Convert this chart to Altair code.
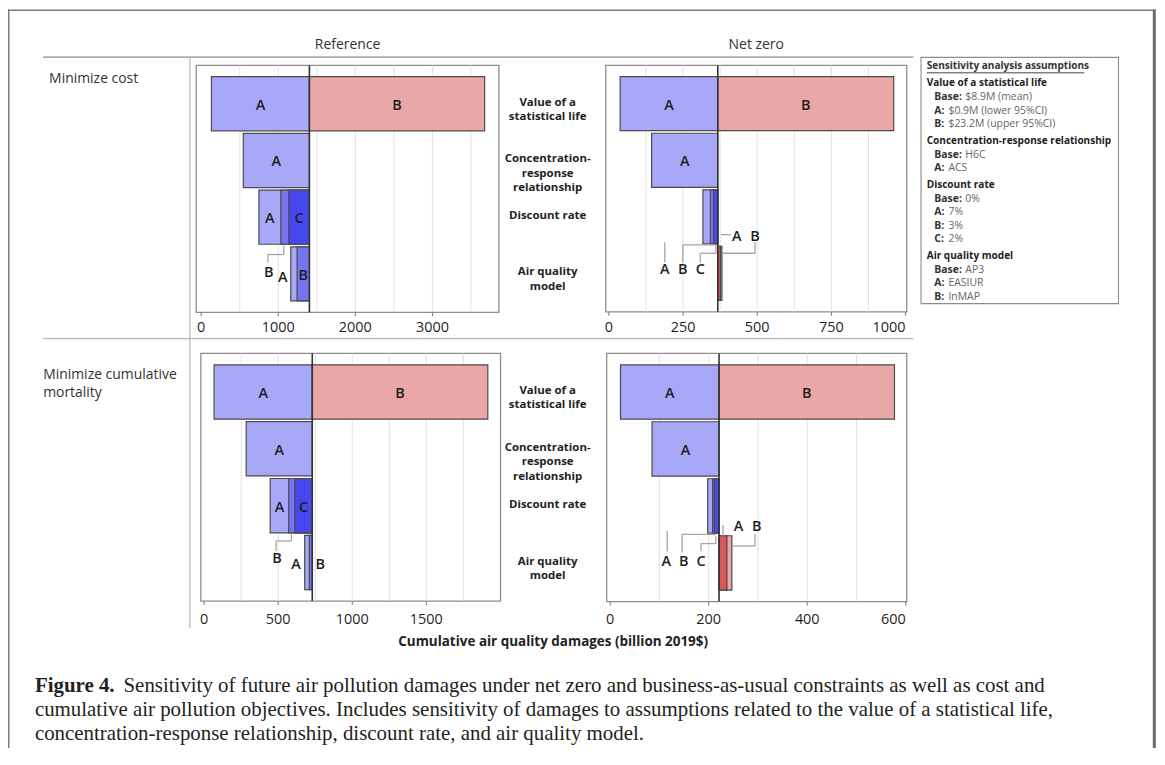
import altair as alt
import pandas as pd

# ---------------- page / layout constants ----------------
OFF = 8                      # page margin: reference pixel -> chart pixel
W, H = 1154, 740
SANS = "Open Sans"
SERIF = "Liberation Serif"

# ---------------- data ----------------
ROWS = ["Value of a statistical life", "Concentration-response relationship",
        "Discount rate", "Air quality model"]
ROW_LABELS = ["Value of a\nstatistical life", "Concentration-\nresponse\nrelationship",
              "Discount rate", "Air quality\nmodel"]
COLUMN_TITLES = ["Reference", "Net zero"]
ROW_TITLES = ["Minimize cost", "Minimize cumulative\nmortality"]
X_TITLE = "Cumulative air quality damages (billion 2019$)"

# panels: 0 Reference/cost, 1 Net zero/cost, 2 Reference/mortality, 3 Net zero/mortality
BASE = [1404, 367, 730, 221]
VSL_A = [133, 38, 67, 21]
VSL_B = [3677, 960, 1915, 577]
CR_A = [546, 144, 284, 85]
DISC_A = [749, 317, 446, 198]
DISC_B = [1033, 342, 571, 208]
DISC_C = [1137, 353, 612, 211]
AQ_A = [1162, 376, 679, 237]
AQ_B = [1244, 381, 710, 247]

TICKS = [[0, 1000, 2000, 3000], [0, 250, 500, 750, 1000], [0, 500, 1000, 1500], [0, 200, 400, 600]]
GRID = [[500, 1000, 1500, 2000, 2500, 3000, 3500],
        [125, 250, 375, 500, 625, 750, 875],
        [250, 500, 750, 1000, 1250, 1500, 1750],
        [100, 200, 300, 400, 500]]
DOMAIN = [[-65, 3862], [-10.7, 1004], [-22, 2001], [-7, 602]]

LEGEND_TITLE = "Sensitivity analysis assumptions"
LEGEND_GROUPS = ["Value of a statistical life", "Concentration-response relationship",
                 "Discount rate", "Air quality model"]
LEGEND_KEYS = [["Base:", "A:", "B:"], ["Base:", "A:"], ["Base:", "A:", "B:", "C:"], ["Base:", "A:", "B:"]]
LEGEND_VALUES = [["$8.9M (mean)", "$0.9M (lower 95%CI)", "$23.2M (upper 95%CI)"],
                 ["H6C", "ACS"], ["0%", "7%", "3%", "2%"], ["AP3", "EASIUR", "InMAP"]]

CAPTION_LEAD = "Figure 4."
CAPTION_LINES = [
    "Sensitivity of future air pollution damages under net zero and business-as-usual constraints as well as cost and",
    "cumulative air pollution objectives. Includes sensitivity of damages to assumptions related to the value of a statistical life,",
    "concentration-response relationship, discount rate, and air quality model.",
]

# annotation labels placed outside bars: (panel, text, x in data units, y in reference px)
ANNOT_TEXT = [
    (0, "B", 878, 272), (0, "A", 1059, 277),
    (1, "A", 188.6, 269), (1, "B", 249, 269), (1, "C", 308, 269),
    (1, "A", 431, 235), (1, "B", 492.6, 235),
    (2, "B", 492.6, 559), (2, "A", 620, 565), (2, "B", 784, 565),
    (3, "A", 114, 562), (3, "B", 149.5, 562), (3, "C", 184.4, 562),
    (3, "A", 260.6, 527), (3, "B", 297.6, 527),
]
# leader lines: (panel, x, x2 in data units, y, y2 in reference px)
ANNOT_LINES = [
    (0, 1072, 1072, 245, 254), (0, 1072, 865, 254, 254), (0, 865, 865, 254, 262),
    (1, 188.6, 188.6, 241.7, 262),
    (1, 249, 360.7, 244.3, 244.3), (1, 249, 249, 244.3, 262),
    (1, 360.7, 360.7, 244.3, 252.7), (1, 308, 360.7, 252.7, 252.7), (1, 308, 308, 252.7, 262),
    (1, 377.5, 411, 234, 234),
    (1, 381, 492.6, 252.7, 252.7), (1, 492.6, 492.6, 241.7, 252.7),
    (2, 589.4, 589.4, 535, 541.7), (2, 589.4, 486, 541.7, 541.7), (2, 486, 486, 541.7, 551.7),
    (3, 115.8, 115.8, 531.7, 552.3),
    (3, 146, 214.7, 535, 535), (3, 146, 146, 535, 553),
    (3, 184.4, 214.7, 544.3, 544.3), (3, 214.7, 214.7, 537, 544.3), (3, 184.4, 184.4, 544.3, 552),
    (3, 228.9, 228.9, 525.7, 536.7),
    (3, 247, 294.1, 546.7, 546.7), (3, 294.1, 294.1, 535, 546.7),
]

# ---------------- styling ----------------
SHADES = ["low1", "low2", "low3", "high1", "high2"]
SHADE_COLORS = ["#a8a8f8", "#7575f1", "#4747ee", "#e9a7a7", "#d85858"]

# panel boxes in reference pixels: x0, x1, y0, y1
BOX = [(197, 501, 64, 312), (608.3, 910.7, 64, 311.5),
       (201.7, 502.7, 353.3, 602), (609.3, 910.7, 353.3, 602.5)]
TICK_LABEL_Y = [327.5, 327.5, 620.8, 620.8]


def factor_values(i):
    return {
        ROWS[0]: [("A", VSL_A[i]), ("B", VSL_B[i])],
        ROWS[1]: [("A", CR_A[i])],
        ROWS[2]: [("A", DISC_A[i]), ("B", DISC_B[i]), ("C", DISC_C[i])],
        ROWS[3]: [("A", AQ_A[i]), ("B", AQ_B[i])],
    }


def build_panel(i):
    x0, x1, y0, y1 = BOX[i]
    d0, d1 = DOMAIN[i]
    xs = alt.Scale(domain=DOMAIN[i], range=[x0 - OFF, x1 - OFF], nice=False, zero=False)
    ys = alt.Scale(domain=ROWS, range=[y0 - OFF, y1 - OFF], paddingInner=0.045, paddingOuter=0.2)
    base = BASE[i]
    ppu = (x1 - x0) / (d1 - d0)
    fv = factor_values(i)
    bar_rows, lab_rows = [], []
    for row in ROWS:
        vals = fv[row]
        lows = sorted([(s, v) for s, v in vals if v < base], key=lambda t: t[1])
        highs = sorted([(s, v) for s, v in vals if v > base], key=lambda t: -t[1])
        for side, lst in (("low", lows), ("high", highs)):
            for k, (s, v) in enumerate(lst):
                start, end = (v, base) if side == "low" else (base, v)
                bar_rows.append(dict(row=row, scen=s, start=start, end=end, shade=f"{side}{k + 1}"))
                nxt = lst[k + 1][1] if k + 1 < len(lst) else base
                if abs(nxt - v) * ppu >= 10:
                    lab_rows.append(dict(row=row, t=s, xc=(v + nxt) / 2))

    grid = alt.Chart(pd.DataFrame({"g": GRID[i]})).mark_rule(color="#e2e2e2", strokeWidth=1).encode(
        x=alt.X("g:Q", scale=xs, axis=None),
        y=alt.value(y0 - OFF), y2=alt.value(y1 - OFF))

    bars = alt.Chart(pd.DataFrame(bar_rows)).mark_bar(stroke="#4b4b4b", strokeWidth=1.2, opacity=1).encode(
        x=alt.X("start:Q", scale=xs, axis=None, stack=None),
        x2="end:Q",
        y=alt.Y("row:N", scale=ys, axis=None),
        color=alt.Color("shade:N", scale=alt.Scale(domain=SHADES, range=SHADE_COLORS), legend=None))

    base_rule = alt.Chart(pd.DataFrame({"b": [base]})).mark_rule(color="#333", strokeWidth=1.6).encode(
        x=alt.X("b:Q", scale=xs, axis=None),
        y=alt.value(y0 - OFF), y2=alt.value(y1 - OFF))

    inside = alt.Chart(pd.DataFrame(lab_rows)).mark_text(
        font=SANS, fontSize=14.5, fontWeight=600, color="#1e1e1e", align="center", baseline="middle", dy=2
    ).encode(
        x=alt.X("xc:Q", scale=xs, axis=None),
        y=alt.Y("row:N", scale=ys, axis=None),
        text="t:N")

    at = [dict(t=t, x=x, y=y - OFF) for p, t, x, y in ANNOT_TEXT if p == i]
    al = [dict(x=a, x2=b, y=c - OFF, y2=d - OFF) for p, a, b, c, d in ANNOT_LINES if p == i]

    lead = alt.Chart(pd.DataFrame(al)).mark_rule(color="#a5a5a5", strokeWidth=1.3).encode(
        x=alt.X("x:Q", scale=xs, axis=None), x2="x2:Q",
        y=alt.Y("y:Q", scale=None), y2="y2:Q")

    outside = alt.Chart(pd.DataFrame(at)).mark_text(
        font=SANS, fontSize=14.5, fontWeight=600, color="#1e1e1e", align="center", baseline="middle", dy=1
    ).encode(
        x=alt.X("x:Q", scale=xs, axis=None),
        y=alt.Y("y:Q", scale=None),
        text="t:N")

    # axis: tick marks and labels drawn through the panel's x scale
    tick_df = pd.DataFrame({"v": TICKS[i]})
    ticks = alt.Chart(tick_df).mark_rule(color="#777", strokeWidth=1).encode(
        x=alt.X("v:Q", scale=xs, axis=None),
        y=alt.value(y1 - OFF), y2=alt.value(y1 - OFF + 4))
    groups = {"left": [], "center": [], "right": []}
    for v in TICKS[i]:
        p = x0 + (v - d0) * ppu
        a = "left" if p - x0 < 2 else ("right" if x1 - p < 2 else "center")
        groups[a].append(dict(v=v, lab=str(v)))
    tick_labels = []
    for a, rows in groups.items():
        if rows:
            tick_labels.append(alt.Chart(pd.DataFrame(rows)).mark_text(
                font=SANS, fontSize=14.5, color="#1f1f1f", align=a, baseline="middle"
            ).encode(
                x=alt.X("v:Q", scale=xs, axis=None),
                y=alt.value(TICK_LABEL_Y[i] - OFF),
                text="lab:N"))

    layers = [grid, bars, base_rule, lead, inside, outside, ticks] + tick_labels
    if i in (1, 3):
        rl = alt.Chart(pd.DataFrame({"row": ROWS, "lab": ROW_LABELS})).mark_text(
            font=SANS, fontSize=11.5, fontWeight="bold", color="#222", align="center",
            baseline="middle", lineBreak="\n", lineHeight=14.5, dy=-1
        ).encode(
            x=alt.value(550 - OFF),
            y=alt.Y("row:N", scale=ys, axis=None),
            text="lab:N")
        layers.append(rl)
    return alt.layer(*layers)


# ---------------- decorations (pixel space) ----------------
def seg_layer(segs, color, width):
    df = pd.DataFrame([dict(x=a - OFF, y=b - OFF, x2=c - OFF, y2=d - OFF) for a, b, c, d in segs])
    return alt.Chart(df).mark_rule(color=color, strokeWidth=width).encode(
        x=alt.X("x:Q", scale=None), x2="x2:Q", y=alt.Y("y:Q", scale=None), y2="y2:Q")


def rect_layer(rects, color, width):
    df = pd.DataFrame([dict(x=a - OFF, x2=b - OFF, y=c - OFF, y2=d - OFF) for a, b, c, d in rects])
    return alt.Chart(df).mark_rect(fillOpacity=0, stroke=color, strokeWidth=width).encode(
        x=alt.X("x:Q", scale=None), x2="x2:Q", y=alt.Y("y:Q", scale=None), y2="y2:Q")


def text_layer(items, size, weight="normal", color="#222", align="left", font=SANS, line_height=None):
    df = pd.DataFrame([dict(x=x - OFF, y=y - OFF, t=t) for x, y, t in items])
    kw = dict(font=font, fontSize=size, fontWeight=weight, color=color, align=align,
              baseline="middle", lineBreak="\n")
    if line_height is not None:
        kw["lineHeight"] = line_height
    return alt.Chart(df).mark_text(**kw).encode(
        x=alt.X("x:Q", scale=None), y=alt.Y("y:Q", scale=None), text="t:N")


deco = []
deco.append(seg_layer([(8.6, 7.6, 8.6, 765)], "#7d7d7d", 1.8))          # left border
deco.append(seg_layer([(8, 8.6, 1159, 8.6)], "#7d7d7d", 1.6))           # top border
deco.append(seg_layer([(1159.3, 8, 1159.3, 765)], "#6a6a6a", 3))        # right border
deco.append(seg_layer([(43.3, 55.7, 917.3, 55.7)], "#8a8a8a", 1.4))     # header line
deco.append(seg_layer([(43.3, 338.5, 917.3, 338.5)], "#b5b5b5", 1.2))   # row separator
deco.append(seg_layer([(190.7, 55.7, 190.7, 629)], "#b0b0b0", 1.1))     # column separator
deco.append(rect_layer([b for b in BOX], "#8c8c8c", 1.3))               # panel frames
deco.append(rect_layer([(925, 1123.3, 56, 303.3)], "#8c8c8c", 1.1))     # legend box

texts = []
texts.append(text_layer([(349, 44, COLUMN_TITLES[0]), (759.5, 44, COLUMN_TITLES[1])], 14, color="#333", align="center"))
texts.append(text_layer([(49.3, 77.7, ROW_TITLES[0]), (43.3, 375.5, ROW_TITLES[1])], 14, color="#333", line_height=17.6))
texts.append(text_layer([(555.5, 643, X_TITLE)], 13.5, weight="bold", color="#222", align="center"))

# legend
texts.append(text_layer([(930.7, 65, LEGEND_TITLE)], 10.1, weight="bold", color="#333"))
deco.append(seg_layer([(930.7, 71.5, 1089, 71.5)], "#444", 1))
hdr, keys, vals = [], [], []
y = 81.7
for g, ks, vs in zip(LEGEND_GROUPS, LEGEND_KEYS, LEGEND_VALUES):
    hdr.append((930.7, y, g))
    yy = y + 14.3
    for k, v in zip(ks, vs):
        keys.append((938.3, yy, k))
        vals.append((969.5 if k == "Base:" else 952.5, yy, v))
        yy += 13.4
    y = yy - 13.4 + 16.7
texts.append(text_layer(hdr, 10.1, weight="bold", color="#222"))
texts.append(text_layer(keys, 10.5, weight="bold", color="#333"))
texts.append(text_layer(vals, 10.5, color="#666"))

# caption
texts.append(text_layer([(35, 687.6, CAPTION_LEAD)], 21, weight="bold", color="#231f20", font=SERIF))
texts.append(text_layer([(124, 687.6, CAPTION_LINES[0]), (35, 711.7, CAPTION_LINES[1]),
                         (35, 735.5, CAPTION_LINES[2])], 21, color="#231f20", font=SERIF))

panels = [build_panel(i) for i in range(4)]

chart = alt.layer(*deco, *panels, *texts).properties(
    width=W, height=H, padding=0, background="white",
    autosize=alt.AutoSizeParams(type="none"),
).resolve_scale(x="independent", y="independent").configure_view(stroke=None)

chart.save("out.html", embed_options={"renderer": "svg", "actions": False})
